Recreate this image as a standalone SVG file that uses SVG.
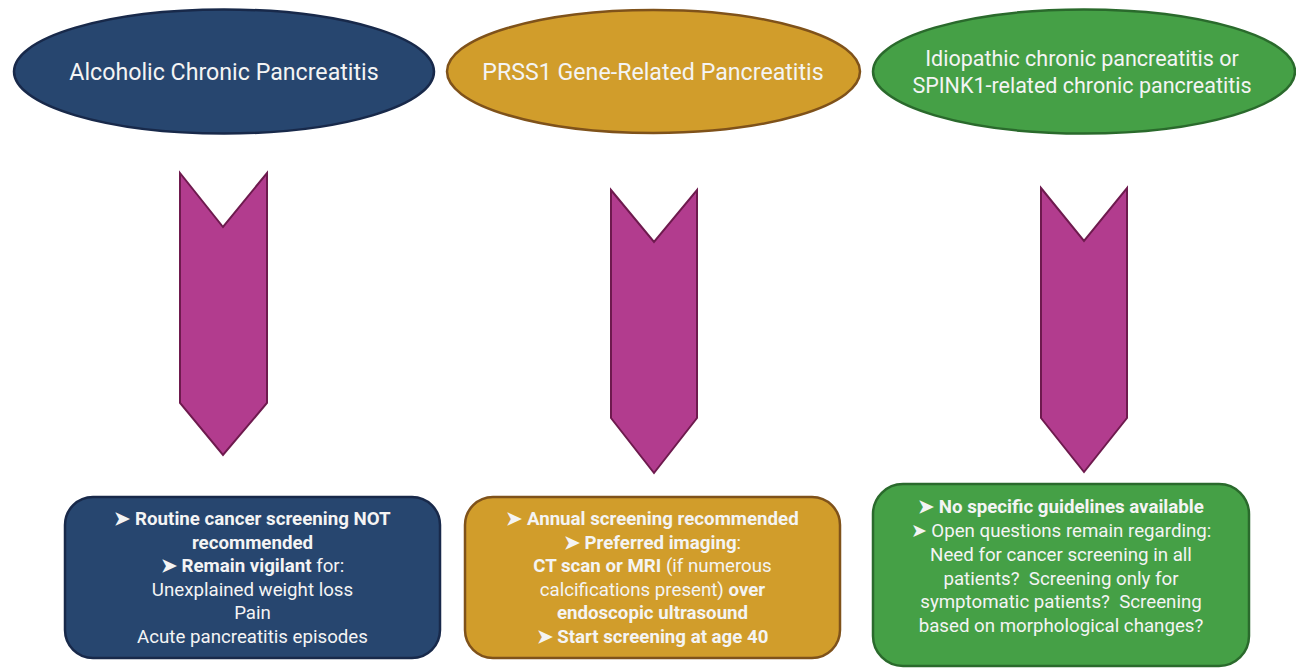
<svg xmlns="http://www.w3.org/2000/svg" width="1296" height="669" viewBox="0 0 1296 669">
<style>
text{font-family:Roboto,"Liberation Sans",sans-serif;fill:#f4f4f4;text-anchor:middle}
.h{font-size:23.2px}
.h2{font-size:21.5px}
.t{font-size:18.7px}
.b{font-weight:bold}
.navy{fill:#27466f;stroke:#18294a;stroke-width:2.5}
.gold{fill:#d19d2b;stroke:#7f521a;stroke-width:2.5}
.green{fill:#45a046;stroke:#2a6a2c;stroke-width:2.5}
.arr{fill:#b23c8e;stroke:#6e1a4e;stroke-width:2;stroke-linejoin:miter}
</style>
<rect width="1296" height="669" fill="#ffffff"/>
<g id="node-alcoholic">
<ellipse class="navy" cx="224" cy="71.5" rx="210" ry="62"/>
<text class="h" x="224" y="80">Alcoholic Chronic Pancreatitis</text>
</g>
<g id="node-prss1">
<ellipse class="gold" cx="653.5" cy="71.5" rx="206.5" ry="61.5"/>
<text class="h" x="653" y="80">PRSS1 Gene-Related Pancreatitis</text>
</g>
<g id="node-idiopathic">
<ellipse class="green" cx="1084" cy="71.5" rx="211" ry="62"/>
<text class="h2" x="1082" y="66">Idiopathic chronic pancreatitis or</text>
<text class="h2" x="1082" y="92.5">SPINK1-related chronic pancreatitis</text>
</g>
<g id="connectors">
<polygon class="arr" points="180,173 223,227 267,173 267,403 223,455 180,403"/>
<polygon class="arr" points="611,190 654,242 697,190 697,418 654,473 611,418"/>
<polygon class="arr" points="1041,188 1084,241 1127,188 1127,418 1084,472 1041,418"/>
</g>
<g id="box-alcoholic">
<rect class="navy" x="65" y="497" width="375" height="161" rx="28"/>
<text class="t b" x="252.5" y="525">➤ Routine cancer screening NOT</text>
<text class="t b" x="252.5" y="548.5">recommended</text>
<text class="t" x="252.5" y="572"><tspan class="b">➤ Remain vigilant</tspan> for:</text>
<text class="t" x="252.5" y="595.5">Unexplained weight loss</text>
<text class="t" x="252.5" y="619">Pain</text>
<text class="t" x="252.5" y="642.5">Acute pancreatitis episodes</text>
</g>
<g id="box-prss1">
<rect class="gold" x="465" y="497" width="375" height="161" rx="28"/>
<text class="t b" x="652.5" y="525">➤ Annual screening recommended</text>
<text class="t" x="652.5" y="548.5"><tspan class="b">➤ Preferred imaging</tspan>:</text>
<text class="t" x="652.5" y="572"><tspan class="b">CT scan or MRI</tspan> (if numerous</text>
<text class="t" x="652.5" y="595.5">calcifications present) <tspan class="b">over</tspan></text>
<text class="t b" x="652.5" y="619">endoscopic ultrasound</text>
<text class="t b" x="652.5" y="642.5">➤ Start screening at age 40</text>
</g>
<g id="box-idiopathic">
<rect class="green" x="873" y="484" width="376" height="182" rx="30"/>
<text class="t b" x="1061" y="513">➤ No specific guidelines available</text>
<text class="t" x="1061" y="537">➤ Open questions remain regarding:</text>
<text class="t" x="1061" y="561">Need for cancer screening in all</text>
<text class="t" x="1061" y="584.5">patients?&#160; Screening only for</text>
<text class="t" x="1061" y="608">symptomatic patients?&#160; Screening</text>
<text class="t" x="1061" y="631.5">based on morphological changes?</text>
</g>
</svg>
